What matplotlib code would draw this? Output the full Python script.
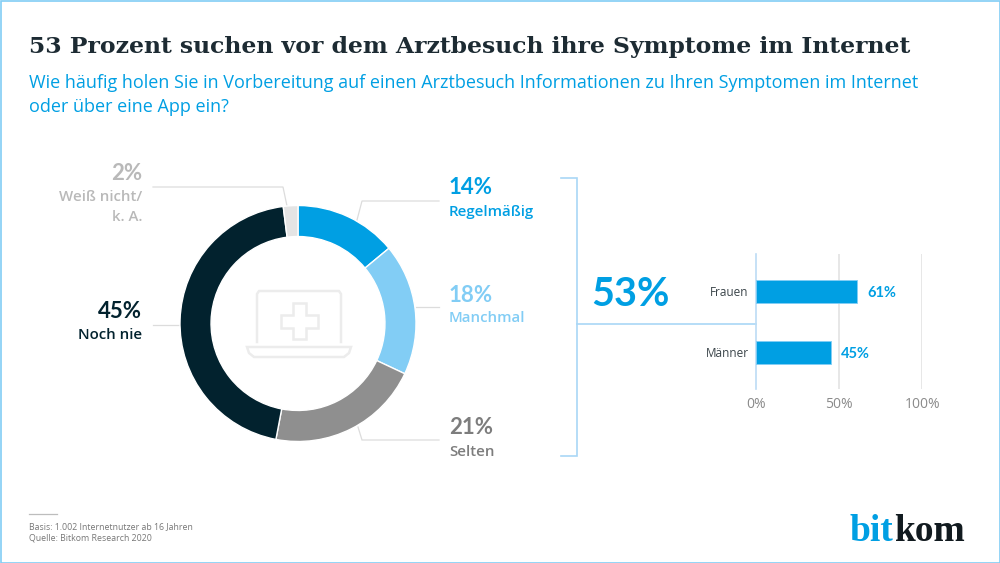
import matplotlib
matplotlib.use('Agg')
import matplotlib.pyplot as plt
from matplotlib.patches import Polygon, Rectangle

W, H = 1000, 563
BLUE = '#009fe3'
LIGHT = '#82cdf5'
GREY = '#8f8f8f'
DARK = '#02222e'
PALE = '#e4e4e4'
LINE = '#a9d7f6'

# Daten
segments = ['Regelmäßig', 'Manchmal', 'Selten', 'Noch nie', 'Weiß nicht/\nk. A.']
shares = [14, 18, 21, 45, 2]
seg_colors = [BLUE, LIGHT, GREY, DARK, PALE]

groups = ['Frauen', 'Männer']
group_values = [61, 45]
x_ticks = [0, 50, 100]

plt.rcParams['font.family'] = ['Open Sans', 'DejaVu Sans']

fig = plt.figure(figsize=(W / 100, H / 100), dpi=100, facecolor='white')


def px_axes(l, t, r, b):
    return fig.add_axes([l / W, 1 - b / H, (r - l) / W, (b - t) / H])


# Overlay in Pixeln fuer Linien, Icon und Texte
ov = fig.add_axes([0, 0, 1, 1], zorder=0)
ov.set_xlim(0, W)
ov.set_ylim(H, 0)
ov.axis('off')
ov.add_patch(Rectangle((0.5, 0.5), W - 1, H - 1, fill=False, ec=LIGHT, lw=1.2))

ov.text(29, 47, '53 Prozent suchen vor dem Arztbesuch ihre Symptome im Internet',
        family='DejaVu Serif', weight='bold', fontsize=16.9, color='#1d2b33', va='center')
ov.text(29, 83, 'Wie häufig holen Sie in Vorbereitung auf einen Arztbesuch Informationen zu Ihren Symptomen im Internet',
        fontsize=13, color=BLUE, va='center')
ov.text(29, 107, 'oder über eine App ein?', fontsize=13, color=BLUE, va='center')

# Donut
ax = px_axes(180, 205.5, 416, 441.5)
ax.pie(shares, colors=seg_colors, startangle=90, counterclock=False, radius=1,
       wedgeprops=dict(width=0.263, edgecolor='white', linewidth=1))
ax.set_xlim(-1, 1)
ax.set_ylim(-1, 1)

# Fuehrungslinien
leaders = [
    ([153, 283, 287], [187, 187, 206]),
    ([439, 362, 357], [201, 201, 220]),
    ([439, 416], [307, 307]),
    ([439, 362, 358], [440, 440, 427]),
    ([153, 180], [325, 325]),
]
for xs, ys in leaders:
    ov.plot(xs, ys, color='#dcdcdc', lw=0.9, solid_joinstyle='miter')

# Laptop-Icon
ICON = '#ececec'
icon = dict(fill=False, ec=ICON, lw=1.8)
ov.plot([257, 257, 259, 339, 341, 341], [342, 294, 291, 291, 294, 342], color=ICON, lw=1.8)
ov.add_patch(Polygon([(247, 347), (351, 347), (349, 353), (344, 357), (254, 357), (249, 353)],
                     closed=True, **icon))
ov.add_patch(Polygon([(293, 303), (306, 303), (306, 315), (318, 315), (318, 328), (306, 328),
                      (306, 339), (293, 339), (293, 328), (281, 328), (281, 315), (293, 315)],
                     closed=True, **icon))

# Beschriftung Donut
big = dict(va='center', fontsize=16, weight='bold', family='Lato')
small = dict(va='center', fontsize=10.8, weight='semibold')
ov.text(142, 173, '2%', ha='right', color='#b9b9b9', **big)
ov.text(142, 197, 'Weiß nicht/', ha='right', color='#b9b9b9', **small)
ov.text(142, 217, 'k. A.', ha='right', color='#b9b9b9', **small)
ov.text(142, 312, '45%', ha='right', color=DARK, **big)
ov.text(142, 335, 'Noch nie', ha='right', color=DARK, **small)
ov.text(449, 188, '14%', color=BLUE, **big)
ov.text(449, 212, 'Regelmäßig', color=BLUE, **small)
ov.text(449, 295, '18%', color=LIGHT, **big)
ov.text(449, 318, 'Manchmal', color=LIGHT, **small)
ov.text(449, 428, '21%', color='#7d7d7d', **big)
ov.text(449, 452, 'Selten', color='#7d7d7d', **small)

# Klammer und 53%
ov.plot([561, 577, 577, 561], [178, 178, 456, 456], color=LINE, lw=1.2, solid_joinstyle='miter')
ov.plot([577, 756], [324, 324], color=LINE, lw=1.2)
ov.text(591, 294, '53%', va='center', fontsize=28.5, weight='bold', family='Lato', color=BLUE)

# Balken
bx = px_axes(755.7, 254, 922.3, 389)
bx.set_facecolor('none')
bx.barh(range(len(groups)), group_values, height=0.38, color=BLUE, edgecolor=LIGHT, linewidth=0.6, zorder=3)
bx.set_xlim(0, 100)
bx.set_ylim(1.6, -0.615)
for s in bx.spines.values():
    s.set_visible(False)
bx.set_xticks(x_ticks)
bx.set_xticklabels([f'{t}%' for t in x_ticks], fontsize=10, color='#8a8a8a')
bx.set_yticks(range(len(groups)))
bx.set_yticklabels(groups, fontsize=8.5, color='#3a4449')
bx.tick_params(length=0)
bx.tick_params(axis='x', pad=6)
bx.tick_params(axis='y', pad=5)
bx.grid(axis='x', color='#e3e3e3', lw=1.2, zorder=0)
bx.set_axisbelow(True)
for t in bx.get_xgridlines()[:1]:
    t.set_color('#bcdcf5')
    t.set_clip_on(False)
for i, v in enumerate(group_values):
    bx.annotate(f'{v}%', (v, i), xytext=(7, -1), textcoords='offset points', va='center',
                fontsize=10.5, weight='bold', family='Lato', color=BLUE)

# Fusszeile
ov.plot([29, 57], [514, 514], color='#bdbdbd', lw=0.9)
ov.text(29, 527, 'Basis: 1.002 Internetnutzer ab 16 Jahren', fontsize=6.3, color='#777777', va='center')
ov.text(29, 538.5, 'Quelle: Bitkom Research 2020', fontsize=6.3, color='#777777', va='center')

# Logo
ov.text(849, 541, 'bit', family='Liberation Serif', weight='bold', fontsize=27, color=BLUE, va='baseline')
ov.text(894, 541, 'kom', family='Liberation Serif', weight='bold', fontsize=27, color='#111a1f', va='baseline')

fig.savefig('out.png', dpi=100)
